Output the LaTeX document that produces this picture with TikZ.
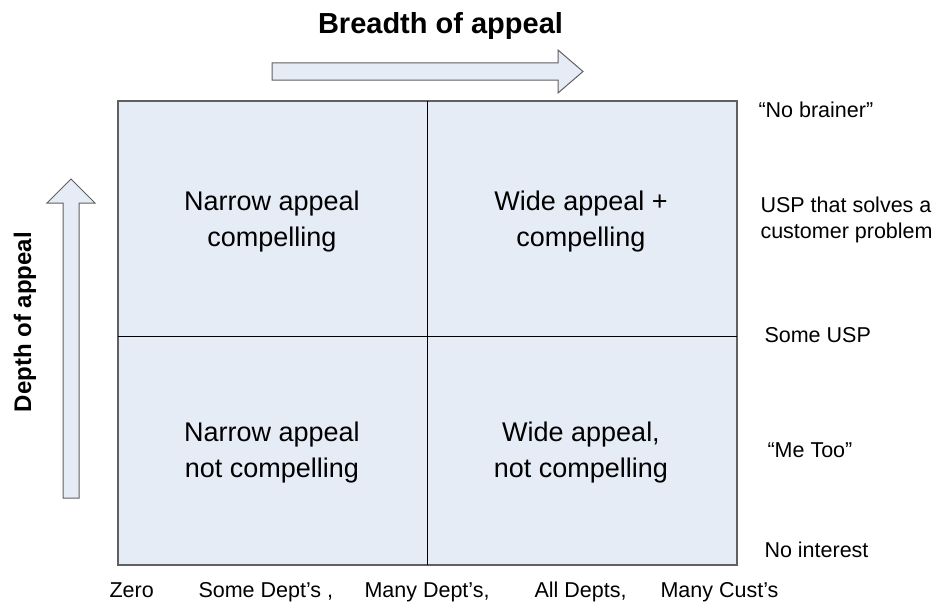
\documentclass[tikz,border=0pt]{standalone}
\usepackage{fontspec}
\setmainfont{Liberation Sans}
\usepackage{tikz}
\usetikzlibrary{positioning}
\definecolor{quadFillCol}{RGB}{230, 236, 246}
\definecolor{quadLineCol}{RGB}{96, 96, 96}
\tikzset{myQuadBox/.style={fill=quadFillCol, draw=quadLineCol, line width=2pt}}
\tikzset{myMidLine/.style={line width=1pt,color=black}}
\tikzset{myBlockArrow/.style={fill=quadFillCol, draw=quadLineCol, line width=1pt, line join=miter}}
\tikzset{myQuadText/.style={align=center, font=\fontsize{27}{36}\selectfont}}
\tikzset{myScaleText/.style={anchor=base west, font=\fontsize{21.5}{26}\selectfont}}
\tikzset{myAxisTitle/.style={font=\bfseries\fontsize{24}{28}\selectfont}}

\begin{document}
\begin{tikzpicture}[x=1pt,y=-1pt]
	\useasboundingbox (0,0) rectangle (934,602);
	%\draw[help lines, step=50] (0,0) grid (934,602);
	
	% quadrant box
	\coordinate (NW) at (118,101);
	\coordinate (SE) at (737,565);
	\coordinate (midTop) at (427,101);
	\coordinate (midBot) at (427,565);
	\coordinate (midLeft) at (118,336);
	\coordinate (midRight) at (737,336);
	\draw[myQuadBox] (NW) rectangle (SE);
	\draw[myMidLine] (midTop) -- (midBot);
	\draw[myMidLine] (midLeft) -- (midRight);
	
	\node[myQuadText] (narrowComp) at (272,221.5) {Narrow appeal\\compelling};
	\node[myQuadText] (wideComp) at (581,221.5) {Wide appeal +\\compelling};
	\node[myQuadText] (narrowNot) at (272,453) {Narrow appeal\\not compelling};
	\node[myQuadText] (wideNot) at (581,453) {Wide appeal,\\not compelling};
	
	% block arrows
	\draw[myBlockArrow] (272,63) -- (558,63) -- (558,50) -- (583,71.5) -- (558,93) -- (558,80) -- (272,80) -- cycle;
	\draw[myBlockArrow] (63,498) -- (63,203) -- (47,203) -- (71,179) -- (95,203) -- (79,203) -- (79,498) -- cycle;
	
	\node[myAxisTitle, anchor=base, font=\bfseries\fontsize{29}{32}\selectfont] (breadth) at (440.5,34) {Breadth of appeal};
	\node[myAxisTitle, rotate=90] (depth) at (25,322) {Depth of appeal};
	
	% depth scale
	\node[myScaleText] (noBrainer) at (755,117) {“No brainer”};
	\node[myScaleText, align=left] (usp) at (757,238) {USP that solves a\\customer problem};
	\node[myScaleText] (someUsp) at (761,342) {Some USP};
	\node[myScaleText] (meToo) at (764,457) {“Me Too”};
	\node[myScaleText] (noInterest) at (761,557) {No interest};
	
	% breadth scale
	\node[myScaleText] (zero) at (106,597) {Zero};
	\node[myScaleText] (someDept) at (195,597) {Some Dept’s ,};
	\node[myScaleText] (manyDept) at (361,597) {Many Dept’s,};
	\node[myScaleText] (allDept) at (531,597) {All Depts,};
	\node[myScaleText] (manyCust) at (657,597) {Many Cust’s};
\end{tikzpicture}
\end{document}
